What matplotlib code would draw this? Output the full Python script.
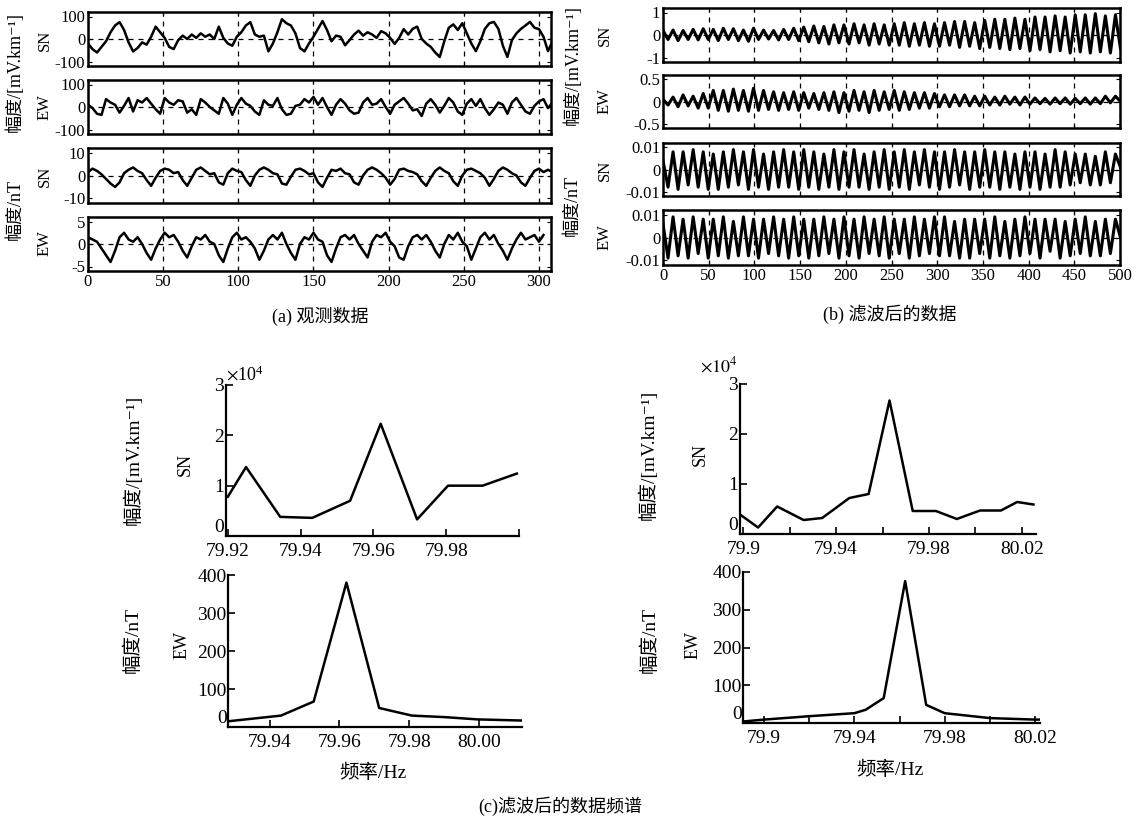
import matplotlib.pyplot as plt
import numpy as np

plt.rcParams['font.family'] = ['Liberation Serif', 'Noto Sans CJK SC', 'DejaVu Serif']
plt.rcParams['axes.unicode_minus'] = False
plt.rcParams['mathtext.fontset'] = 'stix'

W, H = 1142, 825

# (a) observed data, one value read every 3 samples
obs_step = 3
obs_e_sn = [-20, -45, -60, -35, -10, 30, 60, 75, 40, -15, -55, -40, -15, -25, 10, 55,
            30, 5, -35, -45, -5, 15, 0, 20, 5, 25, 10, 20, 0, 55, 5, -20, -30, 10, 30,
            60, 75, 20, 10, 15, -55, -20, 30, 88, 70, 60, 25, -40, -55, -20, 10, 45,
            80, 40, -10, 15, 10, -28, -5, 20, 37, 15, 30, 20, 5, 35, 25, 5, -22, 5, 44,
            20, 45, 55, 0, -20, -35, -60, -80, -10, 50, 65, 40, 70, 25, -20, -54, -10,
            45, 70, 76, 45, -30, -80, -5, 25, 45, 60, 76, 50, 44, 10, -54, -10]
obs_e_ew = [10, -5, -30, -35, 35, 20, 10, -25, 5, 40, -20, 30, 20, 40, 15, -10, -30, 40,
            20, 10, 30, 25, -25, -10, -35, 35, 20, 0, -15, -30, 40, 15, -35, 10, 40, 15,
            5, -20, -35, 30, 10, 5, 40, -10, -35, -30, 5, 10, 35, 20, 45, 10, 40, 0, -35,
            10, 35, 15, -15, -30, -25, 20, 40, 10, 15, 35, 0, -30, 10, 25, 40, 15, -15,
            -10, -40, 15, 35, 10, -25, 5, 40, 20, -20, -35, 15, 35, 5, 35, -5, -35, -10,
            20, 10, -30, 20, 40, 10, -20, -30, 5, 25, 35, -5, 20]
obs_b_sn = [1.5, 3, 2, 0.5, -1.5, -3.5, -5, -3, 1, 2.5, 3.5, 2, 1, -2, -4.5, -1, 2, 3,
            2.5, 1, 1.5, -2, -4.5, -1, 2.5, 3.5, 2, 0.5, 1, -3, -4, 1, 3, 2, 1.5, -2,
            -4.5, 0, 2.5, 3.5, 2.5, 1, 0.5, -3.5, -4, -0.5, 2.5, 3, 2, 0.5, 1, -3, -5,
            -1, 2.5, 2, 3, 1, 0.5, -3, -4, 0, 2.5, 3.5, 2.5, 1, -1, -4, -1.5, 2.5, 3, 2,
            1.5, 0.5, -2.5, -4.5, -1, 2, 3.5, 2, 1, -2.5, -4.5, 0, 2.5, 3, 2, 1, -1,
            -4.5, -1.5, 2, 3.5, 2.5, 1, 0, -3, -4.5, -1, 2, 3, 1.5, 2.5, 1.5]
obs_b_ew = [1.5, 1, 0.5, -1, -2.5, -4, -1.5, 1.5, 2.5, 1, 0.5, 1.5, 0, -2, -3.5, -1, 1,
            2.5, 1.5, 2, 0.5, -1.5, -3, -0.5, 1.5, 1, 2, 0.5, 0, -2.5, -4, -1, 1.5, 2.5,
            1, 1.5, 0.5, -1, -3.5, -1.5, 1, 2, 1, 2.5, 0, -2, -3.5, 0, 1.5, 1, 2.5, 1,
            0.5, -2.5, -4, -1, 1.5, 2, 1, 2, 0, -1.5, -3, 0.5, 2, 1.5, 2.5, 0.5, -0.5,
            -3, -3.5, -0.5, 1.5, 2, 1, 2, 0.5, -1.5, -3, 0, 2, 1, 2.5, 0.5, -0.5, -3.5,
            -1, 1.5, 2.5, 1, 2, 0, -1.5, -3.5, -1, 1, 2.5, 1, 1.5, 2, 0.5, 2]

# (b) filtered data, successive extrema every 5.5 samples
flt_step = 5.5
flt_e_sn = [0.2, -0.2, 0.22, -0.25, 0.2, -0.2, 0.25, -0.22, 0.28, -0.2,
            0.25, -0.25, 0.3, -0.2, 0.28, -0.25, 0.22, -0.28, 0.3,
            -0.2, 0.22, -0.18, 0.2, -0.22, 0.25, -0.2, 0.3, -0.25,
            0.35, -0.3, 0.4, -0.35, 0.38, -0.4, 0.45, -0.35, 0.45,
            -0.4, 0.5, -0.35, 0.45, -0.45, 0.5, -0.4, 0.45, -0.45,
            0.5, -0.45, 0.55, -0.5, 0.5, -0.45, 0.55, -0.5, 0.5,
            -0.5, 0.55, -0.45, 0.6, -0.55, 0.6, -0.5, 0.55, -0.6,
            0.65, -0.55, 0.7, -0.6, 0.7, -0.65, 0.75, -0.6, 0.7,
            -0.7, 0.8, -0.65, 0.8, -0.75, 0.85, -0.7, 0.8, -0.8,
            0.9, -0.75, 0.9, -0.8, 0.95, -0.75, 0.85, -0.8, 0.9, -0.6]
flt_e_ew = [0.05, -0.08, 0.1, -0.12, 0.15, -0.1, 0.12, -0.15, 0.18, -0.15,
            0.25, -0.2, 0.25, -0.22, 0.28, -0.2, 0.25, -0.22, 0.3,
            -0.2, 0.25, -0.18, 0.22, -0.2, 0.2, -0.18, 0.22, -0.2,
            0.2, -0.15, 0.18, -0.18, 0.2, -0.2, 0.22, -0.25, 0.2,
            -0.22, 0.25, -0.2, 0.22, -0.25, 0.25, -0.2, 0.22, -0.18,
            0.25, -0.2, 0.22, -0.18, 0.2, -0.15, 0.2, -0.15, 0.18,
            -0.12, 0.15, -0.12, 0.15, -0.1, 0.15, -0.1, 0.12, -0.1,
            0.12, -0.08, 0.1, -0.08, 0.12, -0.06, 0.1, -0.08, 0.1,
            -0.06, 0.08, -0.05, 0.07, -0.06, 0.08, -0.05, 0.08, -0.06,
            0.07, -0.05, 0.08, -0.06, 0.08, -0.05, 0.12, -0.03, 0.12, 0.0]
flt_b_sn = [0.004, -0.008, 0.008, -0.009, 0.008, -0.007, 0.009, -0.008, 0.008, -0.009,
            0.007, -0.009, 0.008, -0.008, 0.009, -0.007, 0.008, -0.009, 0.009,
            -0.008, 0.007, -0.009, 0.008, -0.008, 0.009, -0.008, 0.008, -0.009,
            0.009, -0.008, 0.008, -0.009, 0.007, -0.008, 0.009, -0.009, 0.008,
            -0.008, 0.009, -0.008, 0.007, -0.009, 0.008, -0.008, 0.009, -0.009,
            0.008, -0.008, 0.009, -0.009, 0.008, -0.007, 0.009, -0.008, 0.008,
            -0.009, 0.008, -0.008, 0.009, -0.007, 0.008, -0.009, 0.008, -0.008,
            0.009, -0.008, 0.008, -0.009, 0.008, -0.008, 0.007, -0.009, 0.008,
            -0.008, 0.008, -0.009, 0.007, -0.008, 0.009, -0.008, 0.008, -0.007,
            0.007, -0.006, 0.007, -0.007, 0.006, -0.007, 0.008, -0.006, 0.007, 0.001]
flt_b_ew = [0.006, -0.009, 0.009, -0.008, 0.008, -0.009, 0.009, -0.007, 0.008, -0.009,
            0.008, -0.008, 0.009, -0.009, 0.007, -0.008, 0.009, -0.008, 0.008,
            -0.009, 0.008, -0.007, 0.009, -0.008, 0.008, -0.009, 0.009, -0.008,
            0.008, -0.009, 0.008, -0.008, 0.009, -0.007, 0.008, -0.009, 0.009,
            -0.008, 0.008, -0.009, 0.009, -0.007, 0.008, -0.008, 0.009, -0.009,
            0.008, -0.007, 0.008, -0.009, 0.009, -0.008, 0.008, -0.007, 0.009,
            -0.008, 0.009, -0.008, 0.007, -0.009, 0.008, -0.009, 0.008, -0.007,
            0.008, -0.009, 0.009, -0.008, 0.007, -0.009, 0.008, -0.008, 0.009,
            -0.007, 0.008, -0.009, 0.008, -0.006, 0.008, -0.009, 0.007, -0.008,
            0.008, -0.007, 0.009, -0.008, 0.007, -0.008, 0.008, -0.007, 0.008, 0.0]

# (c) spectra of filtered data
spec1_e_f = [79.92, 79.925, 79.9344, 79.9432, 79.9536, 79.962, 79.972, 79.9805, 79.99, 79.9994]
spec1_e_a = [7800, 13700, 3800, 3600, 7000, 22300, 3300, 10000, 10000, 12400]
spec1_b_f = [79.928, 79.9432, 79.9526, 79.962, 79.9714, 79.9808, 79.9902, 79.9996, 80.0124]
spec1_b_a = [15, 30, 67, 380, 50, 30, 26, 20, 17]
spec2_e_f = [79.8986, 79.9064, 79.9146, 79.926, 79.934, 79.9457, 79.954, 79.963,
             79.973, 79.983, 79.992, 80.002, 80.011, 80.018, 80.025]
spec2_e_a = [3900, 1300, 5500, 2800, 3200, 7200, 8000, 26700, 4600, 4600, 3000,
             4700, 4700, 6400, 5900]
spec2_b_f = [79.8907, 79.9, 79.92, 79.94, 79.945, 79.953, 79.9625, 79.9718, 79.98,
             80.0, 80.02, 80.022]
spec2_b_a = [4, 9, 18, 26, 35, 66, 376, 48, 26, 13, 9, 9]

amp_e = '幅度/[mV.km⁻¹]'
amp_b = '幅度/nT'

fig = plt.figure(figsize=(W / 100, H / 100), dpi=100)


def box(l, t, r, b):
    return [l / W, 1 - b / H, (r - l) / W, (b - t) / H]


def label(x, y, s, size=12):
    fig.text(x / W, 1 - y / H, s, rotation=90, ha='center', va='center', fontsize=size)


def wave(rect, step, vals, xmax, top, ylabels, bottom, lw):
    ax = fig.add_axes(box(*rect))
    t = np.arange(len(vals)) * step
    ax.plot(t, vals, color='k', lw=lw, solid_joinstyle='round')
    ax.set_xlim(0, xmax)
    ax.set_ylim(-1.2 * top, 1.2 * top)
    ax.set_xticks(np.arange(0, xmax + 1, 50))
    ax.set_yticks([-top, 0, top], ylabels)
    ax.xaxis.grid(True, ls=(0, (4, 4)), color='k', lw=0.9)
    ax.axhline(0, ls=(0, (4, 4)), color='k', lw=0.9, zorder=0)
    ax.tick_params(direction='in', top=True, right=True, length=3, labelsize=12,
                   pad=2, labelbottom=bottom)
    for s in ax.spines.values():
        s.set_linewidth(1.8)
    return ax


# (a)
wave((88, 12, 551, 66), obs_step, obs_e_sn, 308, 100, ['-100', '0', '100'], False, 1.8)
wave((88, 80, 551, 134), obs_step, obs_e_ew, 308, 100, ['-100', '0', '100'], False, 1.8)
wave((88, 148, 551, 203), obs_step, obs_b_sn, 308, 10, ['-10', '0', '10'], False, 1.8)
wave((88, 217, 551, 271), obs_step, obs_b_ew, 308, 5, ['-5', '0', '5'], True, 1.8)
label(15, 72, amp_e, 13)
label(15, 210, amp_b, 13)
for y, s in [(40, 'SN'), (107, 'EW'), (176, 'SN'), (243, 'EW')]:
    label(45, y, s)
fig.text(320 / W, 1 - 316 / H, '(a) 观测数据', ha='center', va='center', fontsize=13)

# (b)
wave((663, 8, 1120, 62), flt_step, flt_e_sn, 500, 1, ['-1', '0', '1'], False, 2.2)
wave((663, 75, 1120, 128), flt_step, flt_e_ew, 500, 0.5, ['-0.5', '0', '0.5'], False, 2.2)
wave((663, 143, 1120, 196), flt_step, flt_b_sn, 500, 0.01, ['-0.01', '0', '0.01'], False, 2.2)
wave((663, 210, 1120, 265), flt_step, flt_b_ew, 500, 0.01, ['-0.01', '0', '0.01'], True, 2.2)
label(572, 65, amp_e, 13)
label(572, 205, amp_b, 13)
for y, s in [(35, 'SN'), (101, 'EW'), (170, 'SN'), (237, 'EW')]:
    label(605, y, s)
fig.text(890 / W, 1 - 314 / H, '(b) 滤波后的数据', ha='center', va='center', fontsize=13)


def spec(rect, f, a, xlim, xticks, xlabels, ylim, yticks, sci):
    ax = fig.add_axes(box(*rect))
    ax.plot(f, a, color='k', lw=1.8)
    ax.set_xlim(xlim)
    ax.set_ylim(ylim)
    ax.set_xticks(xticks, xlabels)
    ax.set_yticks(yticks)
    ax.spines[['top', 'right']].set_visible(False)
    for s in ax.spines.values():
        s.set_linewidth(1.6)
    ax.tick_params(direction='in', length=5, width=1.2, labelsize=14, pad=1)
    ax.tick_params(axis='x', pad=5)
    if sci:
        ax.ticklabel_format(axis='y', style='sci', scilimits=(4, 4), useMathText=True)
        ax.yaxis.get_offset_text().set_fontsize(13)
    ax.get_yticklabels()[0].set_va('bottom')
    return ax


spec((226, 385, 519, 536), spec1_e_f, spec1_e_a, (79.9195, 80.0),
     [79.92, 79.94, 79.96, 79.98, 80.0], ['79.92', '79.94', '79.96', '79.98', ''],
     (0, 30000), [0, 10000, 20000, 30000], True)
spec((228, 575, 522, 727), spec1_b_f, spec1_b_a, (79.928, 80.0124),
     [79.94, 79.96, 79.98, 80.0], ['79.94', '79.96', '79.98', '80.00'],
     (0, 400), [0, 100, 200, 300, 400], False)
ax_r = spec((740, 384, 1036, 534), spec2_e_f, spec2_e_a, (79.8986, 80.0261),
            [79.9, 79.92, 79.94, 79.96, 79.98, 80.0, 80.02],
            ['79.9', '', '79.94', '', '79.98', '', '80.02'],
            (0, 30000), [0, 10000, 20000, 30000], True)
# on this panel the multiplier sits up and to the left of the axis
ax_r.yaxis.get_offset_text().set_visible(False)
fig.text(700 / W, 1 - 366 / H, r'$\times10^{4}$', ha='left', va='center', fontsize=13)
spec((743, 572, 1040, 723), spec2_b_f, spec2_b_a, (79.8907, 80.0222),
     [79.9, 79.92, 79.94, 79.96, 79.98, 80.0, 80.02],
     ['79.9', '', '79.94', '', '79.98', '', '80.02'],
     (0, 400), [0, 100, 200, 300, 400], False)
label(133, 460, amp_e, 14)
label(185, 465, 'SN', 13)
label(133, 640, amp_b, 14)
label(182, 645, 'EW', 13)
label(648, 455, amp_e, 14)
label(700, 455, 'SN', 13)
label(650, 640, amp_b, 14)
label(693, 645, 'EW', 13)
fig.text(373 / W, 1 - 773 / H, '频率/Hz', ha='center', va='center', fontsize=14)
fig.text(890 / W, 1 - 770 / H, '频率/Hz', ha='center', va='center', fontsize=14)
fig.text(560 / W, 1 - 806 / H, '(c)滤波后的数据频谱', ha='center', va='center', fontsize=13)

fig.savefig('out.png', dpi=100)
